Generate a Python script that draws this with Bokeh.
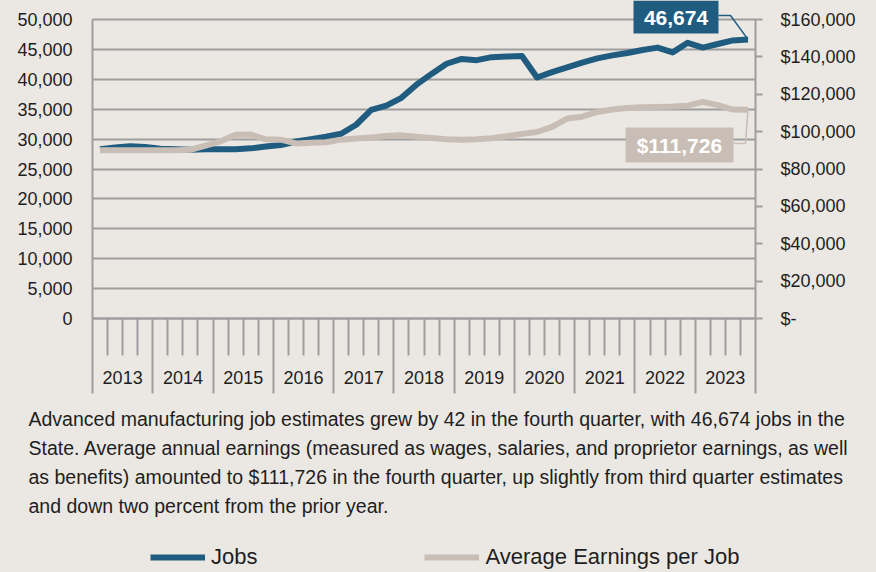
from bokeh.plotting import figure
from bokeh.models import (Range1d, LinearAxis, FixedTicker, NumeralTickFormatter,
                          Legend, LegendItem, Label, GlobalInlineStyleSheet)
from bokeh.core.properties import value
from bokeh.embed import file_html
from bokeh.resources import INLINE

# ---------------- data ----------------
years = ["2013", "2014", "2015", "2016", "2017", "2018", "2019", "2020", "2021", "2022", "2023"]
jobs = [28300, 28600, 28800, 28700, 28400, 28300, 28200, 28300,
        28300, 28300, 28450, 28750, 29000, 29600, 30000, 30400,
        30900, 32400, 34900, 35600, 36900, 39100, 40900, 42600,
        43400, 43200, 43700, 43800, 43900, 40300, 41200, 42000,
        42800, 43500, 44000, 44400, 44900, 45300, 44500, 46100,
        45300, 45900, 46500, 46674]
earnings = [90000, 90000, 90000, 90000, 90000, 90000, 90300, 92500,
            94800, 98300, 98400, 95900, 95700, 93700, 94000, 94300,
            95700, 96300, 96900, 97600, 98000, 97200, 96600, 95900,
            95700, 95900, 96500, 97500, 98800, 99800, 102500, 107000,
            108000, 110500, 111800, 112600, 113000, 113200, 113400, 113900,
            115900, 114200, 111800, 111726]
left_ticks = [0, 5000, 10000, 15000, 20000, 25000, 30000, 35000, 40000, 45000, 50000]
right_ticks = [0, 20000, 40000, 60000, 80000, 100000, 120000, 140000, 160000]
right_labels = ["$-", "$20,000", "$40,000", "$60,000", "$80,000", "$100,000",
                "$120,000", "$140,000", "$160,000"]
jobs_label = "46,674"
earn_label = "$111,726"
series_names = ["Jobs", "Average Earnings per Job"]
paragraph = [
    "Advanced manufacturing job estimates grew by 42 in the fourth quarter, with 46,674 jobs in the",
    "State.  Average annual earnings (measured as wages, salaries, and proprietor earnings, as well",
    "as benefits) amounted to $111,726 in the fourth quarter, up slightly from third quarter estimates",
    "and down two percent from the prior year.",
]

# ---------------- style / layout ----------------
BG = "#EBE8E3"
BLUE = "#1F5C7F"
BEIGE = "#C9BEB5"
GRID = "#9E9E9E"
TXT = "#1E1E1E"
FONT = "Liberation Sans"

W, H = 876, 572
n = len(jobs)
xs = [i + 0.5 for i in range(n)]

# pixel geometry of the plotting area
FX0, FX1 = 92, 755        # x of first / last quarter boundary
Y0PX, YTPX = 318, 19      # y of value 0 and of top tick
qpx = (FX1 - FX0) / n
lpx = (Y0PX - YTPX) / left_ticks[-1]
rpx = (Y0PX - YTPX) / right_ticks[-1]


def dx(px):
    return (px - FX0) / qpx


def dyl(py):
    return (Y0PX - py) / lpx


def dyr(py):
    return (Y0PX - py) / rpx


p = figure(width=W, height=H, output_backend="svg", toolbar_location=None,
           x_range=Range1d(dx(0), dx(W)), y_range=Range1d(dyl(H), dyl(0)),
           x_axis_location=None, y_axis_location=None,
           min_border=0, min_border_left=0, min_border_right=0,
           min_border_top=0, min_border_bottom=0,
           background_fill_color=BG, border_fill_color=BG, outline_line_color=None)
p.stylesheets = [GlobalInlineStyleSheet(css="body { background-color: %s; }" % BG)]
p.extra_y_ranges = {"earn": Range1d(dyr(H), dyr(0))}
p.xgrid.visible = False
p.ygrid.visible = False

plot_w = FX1 - FX0

# left axis (its inward ticks form the horizontal grid lines)
la = LinearAxis(fixed_location=0, ticker=FixedTicker(ticks=left_ticks, minor_ticks=[]),
                formatter=NumeralTickFormatter(format="0,0"),
                bounds=(0, left_ticks[-1]), axis_line_color=GRID, axis_line_width=2,
                major_tick_out=0, major_tick_in=plot_w, major_tick_line_color=GRID,
                major_tick_line_width=2, minor_tick_out=0, minor_tick_in=0,
                major_label_standoff=20, major_label_text_font=FONT,
                major_label_text_font_size="18px", major_label_text_color=TXT, level="underlay")
p.add_layout(la, "left")

# right axis
ra = LinearAxis(fixed_location=n, y_range_name="earn",
                ticker=FixedTicker(ticks=right_ticks, minor_ticks=[]),
                major_label_overrides={t: l for t, l in zip(right_ticks, right_labels)},
                bounds=(0, right_ticks[-1]), axis_line_color=GRID, axis_line_width=2,
                major_tick_out=7, major_tick_in=0, major_tick_line_color=GRID, major_tick_line_width=2,
                minor_tick_out=0, minor_tick_in=0,
                major_label_standoff=18, major_label_text_font=FONT,
                major_label_text_font_size="18px", major_label_text_color=TXT, level="underlay")
p.add_layout(ra, "right")

# x axis: tick marks (year boundaries long, quarter boundaries short)
year_bounds = [4 * k for k in range(len(years) + 1)]
quarter_bounds = [q for q in range(n + 1) if q % 4 != 0]
xa = LinearAxis(fixed_location=0, ticker=FixedTicker(ticks=year_bounds, minor_ticks=quarter_bounds),
                major_label_overrides={t: "" for t in year_bounds}, bounds=(0, n),
                axis_line_color=GRID, axis_line_width=2,
                major_tick_out=75, major_tick_in=0, major_tick_line_color=GRID, major_tick_line_width=2,
                minor_tick_out=37, minor_tick_in=0, minor_tick_line_color=GRID, minor_tick_line_width=2,
                major_label_text_font_size="1px", level="underlay")
p.add_layout(xa, "below")

# x axis: year labels
year_centers = [4 * k + 2 for k in range(len(years))]
xl = LinearAxis(fixed_location=0, ticker=FixedTicker(ticks=year_centers, minor_ticks=[]),
                major_label_overrides={t: y for t, y in zip(year_centers, years)},
                axis_line_color=None, major_tick_out=0, major_tick_in=0,
                minor_tick_out=0, minor_tick_in=0,
                major_label_standoff=52, major_label_text_font=FONT,
                major_label_text_font_size="18px", major_label_text_color=TXT, level="underlay")
p.add_layout(xl, "below")

# series
r_jobs = p.line(xs, jobs, line_color=BLUE, line_width=6, line_join="round")
r_earn = p.line(xs, earnings, y_range_name="earn", line_color=BEIGE, line_width=6, line_join="round")

# value callouts
lx, lj, le = xs[-1], jobs[-1], earnings[-1]
p.quad(left=dx(633), right=dx(718), bottom=dyl(33), top=dyl(0), fill_color=BLUE, line_color=None)
p.line([dx(718), dx(730), lx], [dyl(15), dyl(15), lj], line_color=BLUE, line_width=1.5)
p.text(x=[dx(675.5)], y=[dyl(17)], text=[jobs_label], text_color="white",
       text_font=value(FONT), text_font_style="bold", text_font_size="21px",
       text_align="center", text_baseline="middle")

p.quad(left=dx(625), right=dx(733), bottom=dyr(162), top=dyr(127), fill_color=BEIGE,
       line_color=None, y_range_name="earn")
p.line([dx(733), dx(745), lx], [dyr(143), dyr(143), le], line_color=BEIGE, line_width=1.5,
       y_range_name="earn")
p.text(x=[dx(679)], y=[dyr(145)], text=[earn_label], text_color="white", y_range_name="earn",
       text_font=value(FONT), text_font_style="bold", text_font_size="21px",
       text_align="center", text_baseline="middle")

# paragraph
for k, line in enumerate(paragraph):
    p.add_layout(Label(x=dx(28), y=dyl(418 + 29.3 * k), text=line, text_font=FONT,
                       text_font_size="19.5px", text_color=TXT, text_align="left",
                       text_baseline="middle"))

# legend
legend = Legend(items=[LegendItem(label=series_names[0], renderers=[r_jobs]),
                       LegendItem(label=series_names[1], renderers=[r_earn])],
                orientation="horizontal", location=(150, H - 570),
                glyph_width=55, glyph_height=22, label_standoff=6, spacing=167,
                padding=0, margin=0, border_line_color=None, background_fill_alpha=0,
                label_text_font=FONT, label_text_font_size="22px", label_text_color=TXT)
p.add_layout(legend)

open("out.html", "w").write(file_html(p, INLINE))
